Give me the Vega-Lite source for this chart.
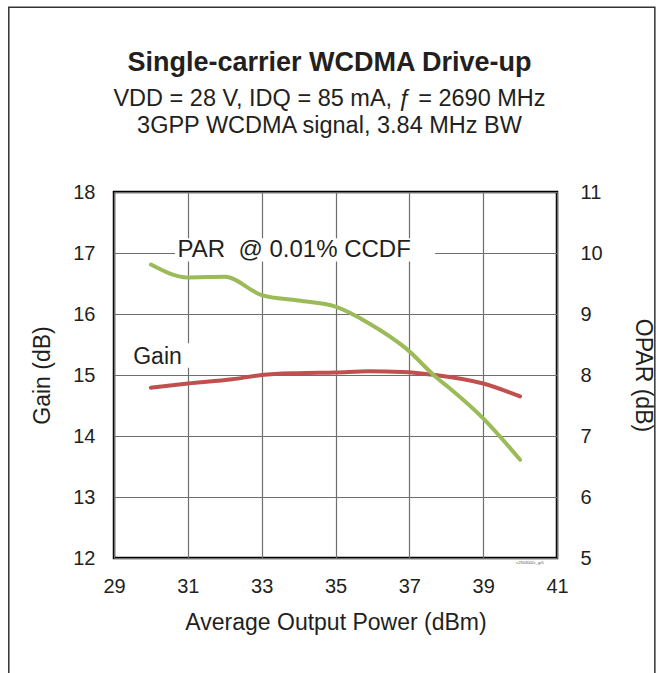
{
  "$schema": "https://vega.github.io/schema/vega-lite/v6.json",
  "width": 443,
  "height": 366,
  "autosize": {"type": "none"},
  "padding": {"left": 114, "top": 192, "right": 108, "bottom": 115},
  "background": "white",
  "config": {
    "font": "Liberation Sans",
    "view": {"stroke": "#000000", "strokeWidth": 2.5},
    "axis": {
      "grid": true,
      "gridColor": "#6e6e6e",
      "gridWidth": 1.2,
      "gridOpacity": 1,
      "domain": false,
      "ticks": false,
      "labelFlush": false,
      "labelFont": "Liberation Sans",
      "labelFontSize": 20,
      "labelColor": "#231f20",
      "titleFont": "Liberation Sans",
      "titleFontSize": 23,
      "titleFontWeight": "normal",
      "titleColor": "#231f20"
    }
  },
  "title": {
    "text": "Single-carrier WCDMA Drive-up",
    "subtitle": ["VDD = 28 V, IDQ = 85 mA, ƒ = 2690 MHz", "3GPP WCDMA signal, 3.84 MHz BW"],
    "anchor": "middle",
    "font": "Liberation Sans",
    "fontSize": 27,
    "fontWeight": "bold",
    "color": "#231f20",
    "subtitleFont": "Liberation Sans",
    "subtitleFontSize": 23.5,
    "subtitleColor": "#231f20",
    "subtitleLineHeight": 27,
    "subtitlePadding": 10,
    "offset": -132,
    "dx": -6
  },
  "datasets": {
    "gain": [
      {"pout": 30.0, "gain": 14.79},
      {"pout": 31.0, "gain": 14.86},
      {"pout": 32.2, "gain": 14.93},
      {"pout": 33.0, "gain": 15.0},
      {"pout": 34.0, "gain": 15.03},
      {"pout": 35.0, "gain": 15.04},
      {"pout": 35.9, "gain": 15.06},
      {"pout": 36.8, "gain": 15.05},
      {"pout": 37.7, "gain": 15.0},
      {"pout": 39.0, "gain": 14.86},
      {"pout": 40.0, "gain": 14.65}
    ],
    "par": [
      {"pout": 30.0, "opar": 9.81},
      {"pout": 31.0, "opar": 9.6},
      {"pout": 32.0, "opar": 9.61},
      {"pout": 33.0, "opar": 9.31},
      {"pout": 34.0, "opar": 9.22},
      {"pout": 35.0, "opar": 9.12},
      {"pout": 35.9, "opar": 8.85},
      {"pout": 36.9, "opar": 8.44},
      {"pout": 37.75, "opar": 7.95},
      {"pout": 38.1, "opar": 7.78},
      {"pout": 39.0, "opar": 7.29},
      {"pout": 40.0, "opar": 6.61}
    ]
  },
  "layer": [
    {
      "layer": [
        {
          "data": {"values": [{"item": "frame"}]},
          "mark": {"type": "rect", "fill": null, "fillOpacity": 0, "stroke": "#333333", "strokeWidth": 1.5},
          "encoding": {
            "x": {"datum": 26.15, "type": "quantitative", "scale": {"domain": [29, 41], "nice": false, "zero": false}},
            "x2": {"datum": 43.65},
            "y": {"datum": 21.03, "type": "quantitative", "scale": {"domain": [12, 18], "nice": false, "zero": false},
                  "axis": {"title": "Gain (dB)", "values": [12, 13, 14, 15, 16, 17, 18], "labelPadding": 19, "titlePadding": 18}},
            "y2": {"datum": 9.67}
          }
        },
        {
          "data": {"values": [{"item": "parbox"}]},
          "mark": {"type": "rect", "fill": "white", "stroke": null},
          "encoding": {
            "x": {"datum": 30.65, "type": "quantitative", "scale": {"domain": [29, 41], "nice": false, "zero": false}},
            "x2": {"datum": 37.7},
            "y": {"datum": 16.86, "type": "quantitative", "scale": {"domain": [12, 18], "nice": false, "zero": false},
                  "axis": {"title": "Gain (dB)", "values": [12, 13, 14, 15, 16, 17, 18], "labelPadding": 19, "titlePadding": 18}},
            "y2": {"datum": 17.24}
          }
        },
        {
          "data": {"values": [{"item": "gainbox"}]},
          "mark": {"type": "rect", "fill": "white", "stroke": null},
          "encoding": {
            "x": {"datum": 29.45, "type": "quantitative", "scale": {"domain": [29, 41], "nice": false, "zero": false}},
            "x2": {"datum": 31.15},
            "y": {"datum": 15.12, "type": "quantitative", "scale": {"domain": [12, 18], "nice": false, "zero": false},
                  "axis": {"title": "Gain (dB)", "values": [12, 13, 14, 15, 16, 17, 18], "labelPadding": 19, "titlePadding": 18}},
            "y2": {"datum": 15.52}
          }
        },
        {
          "data": {"name": "gain"},
          "mark": {"type": "line", "color": "#c0504d", "strokeWidth": 4, "interpolate": "monotone", "strokeCap": "round"},
          "encoding": {
            "x": {"field": "pout", "type": "quantitative", "scale": {"domain": [29, 41], "nice": false, "zero": false},
                  "axis": {"title": "Average Output Power (dBm)", "values": [29, 31, 33, 35, 37, 39, 41], "labelPadding": 18, "titlePadding": 15}},
            "y": {"field": "gain", "type": "quantitative", "scale": {"domain": [12, 18], "nice": false, "zero": false},
                  "axis": {"title": "Gain (dB)", "values": [12, 13, 14, 15, 16, 17, 18], "labelPadding": 19, "titlePadding": 18}}
          }
        },
        {
          "data": {"values": [{"label": "PAR\u00a0\u00a0@ 0.01% CCDF"}]},
          "mark": {"type": "text", "align": "left", "baseline": "middle", "fontSize": 24, "color": "#231f20", "font": "Liberation Sans"},
          "encoding": {
            "x": {"datum": 30.72, "type": "quantitative", "scale": {"domain": [29, 41], "nice": false, "zero": false}},
            "y": {"datum": 17.05, "type": "quantitative", "scale": {"domain": [12, 18], "nice": false, "zero": false},
                  "axis": {"title": "Gain (dB)", "values": [12, 13, 14, 15, 16, 17, 18], "labelPadding": 19, "titlePadding": 18}},
            "text": {"field": "label"}
          }
        },
        {
          "data": {"values": [{"label": "Gain"}]},
          "mark": {"type": "text", "align": "left", "baseline": "middle", "fontSize": 23, "color": "#231f20", "font": "Liberation Sans"},
          "encoding": {
            "x": {"datum": 29.52, "type": "quantitative", "scale": {"domain": [29, 41], "nice": false, "zero": false}},
            "y": {"datum": 15.3, "type": "quantitative", "scale": {"domain": [12, 18], "nice": false, "zero": false},
                  "axis": {"title": "Gain (dB)", "values": [12, 13, 14, 15, 16, 17, 18], "labelPadding": 19, "titlePadding": 18}},
            "text": {"field": "label"}
          }
        },
        {
          "data": {"values": [{"label": "c2903002c_gr5"}]},
          "mark": {"type": "text", "align": "center", "baseline": "middle", "fontSize": 4, "color": "#555555", "font": "Liberation Sans"},
          "encoding": {
            "x": {"datum": 40.27, "type": "quantitative", "scale": {"domain": [29, 41], "nice": false, "zero": false}},
            "y": {"datum": 11.92, "type": "quantitative", "scale": {"domain": [12, 18], "nice": false, "zero": false},
                  "axis": {"title": "Gain (dB)", "values": [12, 13, 14, 15, 16, 17, 18], "labelPadding": 19, "titlePadding": 18}},
            "text": {"field": "label"}
          }
        }
      ]
    },
    {
      "data": {"name": "par"},
      "mark": {"type": "line", "color": "#9bbb59", "strokeWidth": 4, "interpolate": "monotone", "strokeCap": "round"},
      "encoding": {
        "x": {"field": "pout", "type": "quantitative", "scale": {"domain": [29, 41], "nice": false, "zero": false}},
        "y": {"field": "opar", "type": "quantitative", "scale": {"domain": [5, 11], "nice": false, "zero": false},
              "axis": {"title": "OPAR (dB)", "orient": "right", "grid": false, "values": [5, 6, 7, 8, 9, 10, 11], "labelPadding": 23, "titlePadding": 28}}
      }
    }
  ],
  "resolve": {"scale": {"y": "independent"}}
}
